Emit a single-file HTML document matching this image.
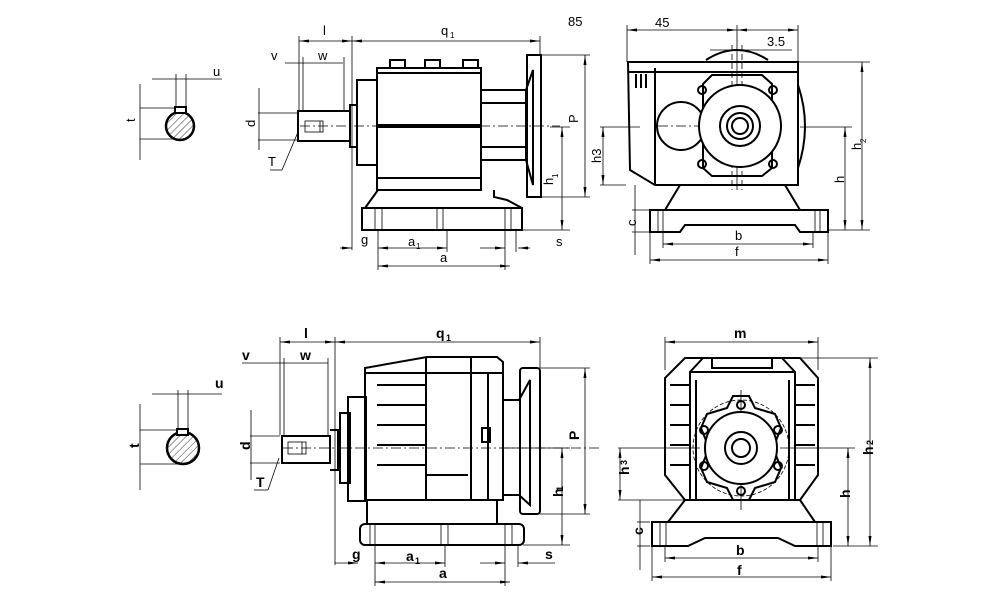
<!DOCTYPE html>
<html><head><meta charset="utf-8"><style>
html,body{margin:0;padding:0;background:#fff}
svg{display:block}
text{font-family:"Liberation Sans",sans-serif;fill:#000}
.t{font-size:13px}
.b{font-size:14px;font-weight:bold}
</style></head><body>
<svg width="1000" height="611" viewBox="0 0 1000 611" xmlns="http://www.w3.org/2000/svg">
<defs>
<marker id="a" markerWidth="10" markerHeight="6" refX="10" refY="3" orient="auto-start-reverse" markerUnits="userSpaceOnUse"><path d="M0,1.5 L10,3 L0,4.5z" fill="#000"/></marker>
<pattern id="h" width="5" height="5" patternUnits="userSpaceOnUse" patternTransform="rotate(45)"><line x1="0" y1="0" x2="0" y2="5" stroke="#000" stroke-width="0.8"/></pattern>
</defs>
<g fill="none" stroke="#000">
<g stroke-width="0.8">
<line x1="152" y1="79" x2="222" y2="79"/><line x1="176" y1="74" x2="176" y2="108"/><line x1="186" y1="74" x2="186" y2="108"/>
<line x1="140" y1="108" x2="176" y2="108"/><line x1="140" y1="139" x2="180" y2="139"/><line x1="140" y1="84" x2="140" y2="160"/>
</g>
<circle cx="180" cy="126" r="14" stroke-width="2.5" fill="url(#h)"/>
<rect x="175" y="107" width="11" height="6" stroke-width="2" fill="#fff"/>
<g stroke-width="0.8">
<line x1="299" y1="41" x2="352" y2="41" marker-start="url(#a)" marker-end="url(#a)"/>
<line x1="352" y1="41" x2="540" y2="41" marker-start="url(#a)" marker-end="url(#a)"/>
<line x1="299" y1="36" x2="299" y2="111"/><line x1="352" y1="36" x2="352" y2="250"/><line x1="540" y1="36" x2="540" y2="55"/>
<line x1="285" y1="63" x2="343" y2="63"/><line x1="303" y1="57" x2="303" y2="111"/><line x1="344" y1="57" x2="344" y2="111"/>
<line x1="258" y1="113" x2="298" y2="113"/><line x1="258" y1="140" x2="298" y2="140"/><line x1="259" y1="88" x2="259" y2="150"/>
<line x1="270" y1="170" x2="282" y2="170"/><line x1="282" y1="170" x2="298" y2="132"/>
<line x1="540" y1="55" x2="590" y2="55"/><line x1="540" y1="197" x2="590" y2="197"/><line x1="585" y1="55" x2="585" y2="197" marker-start="url(#a)" marker-end="url(#a)"/>
<line x1="550" y1="127" x2="570" y2="127"/><line x1="562" y1="127" x2="562" y2="230" marker-start="url(#a)" marker-end="url(#a)"/><line x1="522" y1="230" x2="570" y2="230"/>
<line x1="340" y1="248" x2="352" y2="248" marker-end="url(#a)"/><line x1="378" y1="248" x2="447" y2="248" marker-start="url(#a)" marker-end="url(#a)"/>
<line x1="480" y1="248" x2="505" y2="248" marker-end="url(#a)"/><line x1="530" y1="248" x2="518" y2="248" marker-end="url(#a)"/>
<line x1="378" y1="266" x2="510" y2="266" marker-start="url(#a)" marker-end="url(#a)"/>
<line x1="378" y1="230" x2="378" y2="270"/><line x1="447" y1="230" x2="447" y2="252"/><line x1="505" y1="230" x2="505" y2="270"/><line x1="516" y1="230" x2="516" y2="252"/>
<line x1="300" y1="126" x2="560" y2="126" stroke-dasharray="10,3,2,3"/>
</g>
<g stroke-width="2">
<rect x="298" y="111" width="52" height="30"/>
<rect x="350" y="105" width="7" height="42"/>
<rect x="357" y="80" width="20" height="85"/>
<rect x="377" y="68" width="104" height="122"/>
<path d="M390,60 h15 v8 h-15z M425,60 h15 v8 h-15z M463,60 h15 v8 h-15z"/>
<path d="M378,73 h103 M378,178 h103"/>
<path d="M481,90 h45 v70 h-45 M481,103 h45 M481,147 h45"/>
<path d="M526,90 L533,70 V185 L526,160"/>
<rect x="527" y="55" width="14" height="142"/>
<path d="M378,190 L365,208 H522 V208 L507,200 L494,197 V190"/>
<rect x="362" y="208" width="160" height="22"/>
</g>
<line x1="377" y1="126" x2="482" y2="126" stroke-width="4"/>
<g stroke-width="0.8"><path d="M375,208v22 M382,208v22 M437,208v22 M443,208v22 M505,208v22 M511,208v22"/><rect x="305" y="121" width="18" height="11"/><line x1="320" y1="121" x2="320" y2="132"/></g>
<g stroke-width="0.8">
<line x1="627" y1="30" x2="737" y2="30" marker-start="url(#a)" marker-end="url(#a)"/><line x1="737" y1="30" x2="798" y2="30" marker-start="url(#a)" marker-end="url(#a)"/>
<line x1="627" y1="25" x2="627" y2="62"/><line x1="798" y1="25" x2="798" y2="62"/><line x1="737" y1="25" x2="737" y2="190"/><line x1="732" y1="45" x2="732" y2="190" stroke-dasharray="6,3"/><line x1="742" y1="45" x2="742" y2="190" stroke-dasharray="6,3"/>
<line x1="710" y1="50" x2="792" y2="50"/>
<line x1="798" y1="62" x2="870" y2="62"/><line x1="862" y1="62" x2="862" y2="230" marker-start="url(#a)" marker-end="url(#a)"/>
<line x1="800" y1="127" x2="852" y2="127"/><line x1="845" y1="127" x2="845" y2="230" marker-start="url(#a)" marker-end="url(#a)"/><line x1="828" y1="230" x2="870" y2="230"/>
<line x1="600" y1="127" x2="640" y2="127"/><line x1="600" y1="185" x2="626" y2="185"/><line x1="603" y1="127" x2="603" y2="185" marker-start="url(#a)" marker-end="url(#a)"/>
<line x1="635" y1="185" x2="635" y2="255"/><line x1="632" y1="210" x2="650" y2="210"/><line x1="632" y1="232" x2="650" y2="232"/>
<line x1="663" y1="244" x2="813" y2="244" marker-start="url(#a)" marker-end="url(#a)"/><line x1="650" y1="260" x2="828" y2="260" marker-start="url(#a)" marker-end="url(#a)"/>
<line x1="663" y1="232" x2="663" y2="248"/><line x1="813" y1="232" x2="813" y2="248"/><line x1="650" y1="232" x2="650" y2="264"/><line x1="828" y1="232" x2="828" y2="264"/>
<line x1="658" y1="126" x2="780" y2="126" stroke-dasharray="10,3,2,3"/>
</g>
<g stroke-width="2">
<path d="M628,62 H798 V185 H655 L630,170 Z"/><line x1="655" y1="68" x2="655" y2="185"/><line x1="628" y1="72" x2="798" y2="72"/>
<path d="M636,74v14 M641,74v14 M646,74v14"/>
<path d="M706,60 Q737,40 768,60"/>
<circle cx="681" cy="126" r="24"/>
<path d="M703,84 L712,75 H762 L772,84 V168 L762,176 H712 L703,168 Z"/>
<circle cx="740" cy="126" r="41" fill="#fff"/>
<circle cx="740" cy="126" r="20"/><circle cx="740" cy="126" r="13"/><circle cx="740" cy="126" r="8"/>
<circle cx="702" cy="90" r="4"/><circle cx="773" cy="90" r="4"/><circle cx="702" cy="164" r="4"/><circle cx="773" cy="164" r="4"/>
<path d="M798,85 Q812,126 798,168"/>
<path d="M680,185 L665,210 M785,185 L800,210"/>
<path d="M650,210 H828 V232 H800 L795,225 H685 L680,232 H650 Z"/>
</g>
<g stroke-width="0.8"><path d="M658,210v22 M663,210v22 M815,210v22 M820,210v22"/></g>
<g stroke-width="0.8">
<line x1="152" y1="394" x2="222" y2="394"/><line x1="178" y1="390" x2="178" y2="430"/><line x1="188" y1="390" x2="188" y2="430"/>
<line x1="140" y1="430" x2="180" y2="430"/><line x1="140" y1="464" x2="185" y2="464"/><line x1="140" y1="404" x2="140" y2="490"/>
</g>
<circle cx="183" cy="448" r="16" stroke-width="2.5" fill="url(#h)"/>
<rect x="177" y="429" width="11" height="6" stroke-width="2" fill="#fff"/>
<g stroke-width="0.8">
<line x1="280" y1="342" x2="335" y2="342" marker-start="url(#a)" marker-end="url(#a)"/><line x1="335" y1="342" x2="540" y2="342" marker-start="url(#a)" marker-end="url(#a)"/>
<line x1="280" y1="337" x2="280" y2="435"/><line x1="335" y1="337" x2="335" y2="565"/><line x1="540" y1="337" x2="540" y2="368"/>
<line x1="242" y1="363" x2="328" y2="363"/><line x1="284" y1="358" x2="284" y2="435"/><line x1="328" y1="358" x2="328" y2="435"/>
<line x1="250" y1="436" x2="280" y2="436"/><line x1="250" y1="463" x2="280" y2="463"/><line x1="251" y1="410" x2="251" y2="480"/>
<line x1="254" y1="490" x2="268" y2="490"/><line x1="268" y1="490" x2="279" y2="458"/>
<line x1="540" y1="368" x2="590" y2="368"/><line x1="540" y1="514" x2="590" y2="514"/><line x1="585" y1="368" x2="585" y2="514" marker-start="url(#a)" marker-end="url(#a)"/>
<line x1="500" y1="448" x2="570" y2="448"/><line x1="562" y1="448" x2="562" y2="545" marker-start="url(#a)" marker-end="url(#a)"/><line x1="523" y1="545" x2="570" y2="545"/>
<line x1="335" y1="563" x2="358" y2="563" marker-end="url(#a)"/><line x1="375" y1="563" x2="445" y2="563" marker-start="url(#a)" marker-end="url(#a)"/>
<line x1="480" y1="563" x2="505" y2="563" marker-end="url(#a)"/><line x1="555" y1="563" x2="518" y2="563" marker-end="url(#a)"/>
<line x1="375" y1="582" x2="510" y2="582" marker-start="url(#a)" marker-end="url(#a)"/>
<line x1="375" y1="545" x2="375" y2="586"/><line x1="445" y1="545" x2="445" y2="567"/><line x1="505" y1="545" x2="505" y2="586"/><line x1="518" y1="545" x2="518" y2="567"/>
<line x1="283" y1="448" x2="600" y2="448" stroke-dasharray="10,3,2,3"/>
</g>
<g stroke-width="2">
<rect x="282" y="436" width="48" height="27"/>
<path d="M330,430 h8 v40 h-8"/>
<rect x="340" y="413" width="10" height="70"/>
<rect x="348" y="397" width="18" height="104"/>
<path d="M365,368 L427,357 H497 L503,362 V500 H365 Z"/>
<path d="M366,373 H503 M426,357 V500 M471,357 V500 M488,372 V500 M427,475 H468"/>
<path d="M377,385 H426 M377,405 H426 M377,425 H426 M377,445 H426 M377,465 H426"/>
<rect x="482" y="428" width="8" height="14"/>
<path d="M503,400 h17 v95 h-17"/>
<path d="M519,400 L530,380 V505 L519,495"/>
<rect x="520" y="368" width="20" height="146" rx="3"/>
<path d="M367,500 V524 M497,500 V524"/>
<rect x="360" y="524" width="164" height="21" rx="5"/>
</g>
<g stroke-width="0.8"><path d="M370,524v21 M375,524v21 M441,524v21 M448,524v21 M505,524v21 M512,524v21"/><rect x="288" y="442" width="18" height="12"/><line x1="302" y1="442" x2="302" y2="454"/></g>
<g stroke-width="0.8">
<line x1="665" y1="342" x2="818" y2="342" marker-start="url(#a)" marker-end="url(#a)"/><line x1="665" y1="337" x2="665" y2="370"/><line x1="818" y1="337" x2="818" y2="370"/>
<line x1="800" y1="358" x2="878" y2="358"/><line x1="870" y1="358" x2="870" y2="546" marker-start="url(#a)" marker-end="url(#a)"/>
<line x1="780" y1="448" x2="855" y2="448"/><line x1="848" y1="448" x2="848" y2="546" marker-start="url(#a)" marker-end="url(#a)"/><line x1="833" y1="546" x2="878" y2="546"/>
<line x1="618" y1="448" x2="700" y2="448"/><line x1="618" y1="500" x2="685" y2="500"/><line x1="620" y1="448" x2="620" y2="500" marker-start="url(#a)" marker-end="url(#a)"/>
<line x1="640" y1="500" x2="640" y2="570"/><line x1="637" y1="522" x2="650" y2="522"/><line x1="637" y1="546" x2="650" y2="546"/>
<line x1="665" y1="558" x2="818" y2="558" marker-start="url(#a)" marker-end="url(#a)"/><line x1="652" y1="577" x2="831" y2="577" marker-start="url(#a)" marker-end="url(#a)"/>
<line x1="665" y1="546" x2="665" y2="562"/><line x1="818" y1="546" x2="818" y2="562"/><line x1="652" y1="546" x2="652" y2="581"/><line x1="831" y1="546" x2="831" y2="581"/>
<circle cx="741" cy="448" r="48" stroke-dasharray="4,2"/>
<line x1="741" y1="390" x2="741" y2="510"/>
</g>
<g stroke-width="2">
<path d="M685,358 H800 L818,378 V475 L800,500 H685 L665,475 V378 Z"/>
<path d="M703,358 L690,372 V500 M782,358 L795,372 V500 M690,372 H795 M712,358 v10 h60 v-10 M696,380 V500 M789,380 V500"/>
<path d="M670,385h20 M670,405h20 M670,425h20 M670,445h20 M670,465h20 M795,385h20 M795,405h20 M795,425h20 M795,445h20 M795,465h20"/>
<path d="M733,396 L749,396 L755,408 L775,414 L781,428 L773,448 L781,468 L775,482 L755,488 L749,500 L733,500 L727,488 L707,482 L701,468 L709,448 L701,428 L707,414 L727,408 Z"/>
<circle cx="741" cy="448" r="36" fill="#fff"/>
<circle cx="741" cy="448" r="16"/><circle cx="741" cy="448" r="9"/>
<circle cx="741" cy="405" r="4"/><circle cx="741" cy="491" r="4"/><circle cx="704" cy="430" r="4"/><circle cx="778" cy="430" r="4"/><circle cx="704" cy="466" r="4"/><circle cx="778" cy="466" r="4"/>
<path d="M685,500 L668,522 M800,500 L815,522"/>
<path d="M652,522 H831 V546 H795 L778,538 H705 L688,546 H652 Z"/>
</g>
<g stroke-width="0.8"><path d="M660,522v24 M666,522v24 M817,522v24 M823,522v24"/></g>
</g>
<text class="t" x="213" y="76">u</text>
<text class="t" x="135" y="130" transform="rotate(-90 131 126)">t</text>
<text class="t" x="323" y="35">l</text>
<text class="t" x="441" y="35">q</text><text x="450" y="38" style="font-size:8px">1</text>
<text class="t" x="568" y="26">85</text>
<text class="t" x="271" y="60">v</text>
<text class="t" x="318" y="60">w</text>
<text class="t" x="251" y="131" transform="rotate(-90 251 127)">d</text>
<text class="t" x="268" y="166">T</text>
<text class="t" x="577" y="132" transform="rotate(-90 573 127)">P</text>
<text class="t" x="553" y="185" transform="rotate(-90 553 185)">h</text><text x="558" y="178" style="font-size:8px" transform="rotate(-90 558 178)">1</text>
<text class="t" x="361" y="244">g</text>
<text class="t" x="408" y="246">a</text><text x="416" y="249" style="font-size:8px">1</text>
<text class="t" x="440" y="262">a</text>
<text class="t" x="556" y="246">s</text>
<text class="t" x="655" y="27">45</text>
<text class="t" x="767" y="46">3.5</text>
<text class="t" x="601" y="163" transform="rotate(-90 601 163)">h3</text>
<text class="t" x="861" y="150" transform="rotate(-90 861 150)">h</text><text x="866" y="143" style="font-size:8px" transform="rotate(-90 866 143)">2</text>
<text class="t" x="844" y="183" transform="rotate(-90 844 183)">h</text>
<text class="t" x="636" y="226" transform="rotate(-90 636 226)">c</text>
<text class="t" x="735" y="240">b</text>
<text class="t" x="735" y="256">f</text>
<text class="b" x="215" y="388">u</text>
<text class="b" x="134" y="453" transform="rotate(-90 134 448)">t</text>
<text class="b" x="304" y="338">l</text>
<text class="b" x="436" y="338">q</text><text x="446" y="341" style="font-size:9px;font-weight:bold">1</text>
<text class="b" x="242" y="360">v</text>
<text class="b" x="300" y="360">w</text>
<text class="b" x="246" y="454" transform="rotate(-90 246 450)">d</text>
<text class="b" x="256" y="487">T</text>
<text class="b" x="575" y="444" transform="rotate(-90 575 440)">P</text>
<text class="b" x="558" y="502" transform="rotate(-90 558 497)">h</text><text x="563" y="491" style="font-size:9px;font-weight:bold" transform="rotate(-90 563 491)">1</text>
<text class="b" x="352" y="559">g</text>
<text class="b" x="406" y="561">a</text><text x="415" y="564" style="font-size:9px;font-weight:bold">1</text>
<text class="b" x="439" y="578">a</text>
<text class="b" x="545" y="559">s</text>
<text class="b" x="734" y="338">m</text>
<text class="b" x="622" y="482" transform="rotate(-90 622 475)">h</text><text x="627" y="465" style="font-size:9px;font-weight:bold" transform="rotate(-90 627 465)">3</text>
<text class="b" x="868" y="460" transform="rotate(-90 868 455)">h</text><text x="873" y="445" style="font-size:9px;font-weight:bold" transform="rotate(-90 873 445)">2</text>
<text class="b" x="846" y="502" transform="rotate(-90 846 498)">h</text>
<text class="b" x="638" y="540" transform="rotate(-90 638 535)">c</text>
<text class="b" x="736" y="555">b</text>
<text class="b" x="737" y="575">f</text>
</svg>
</body></html>
